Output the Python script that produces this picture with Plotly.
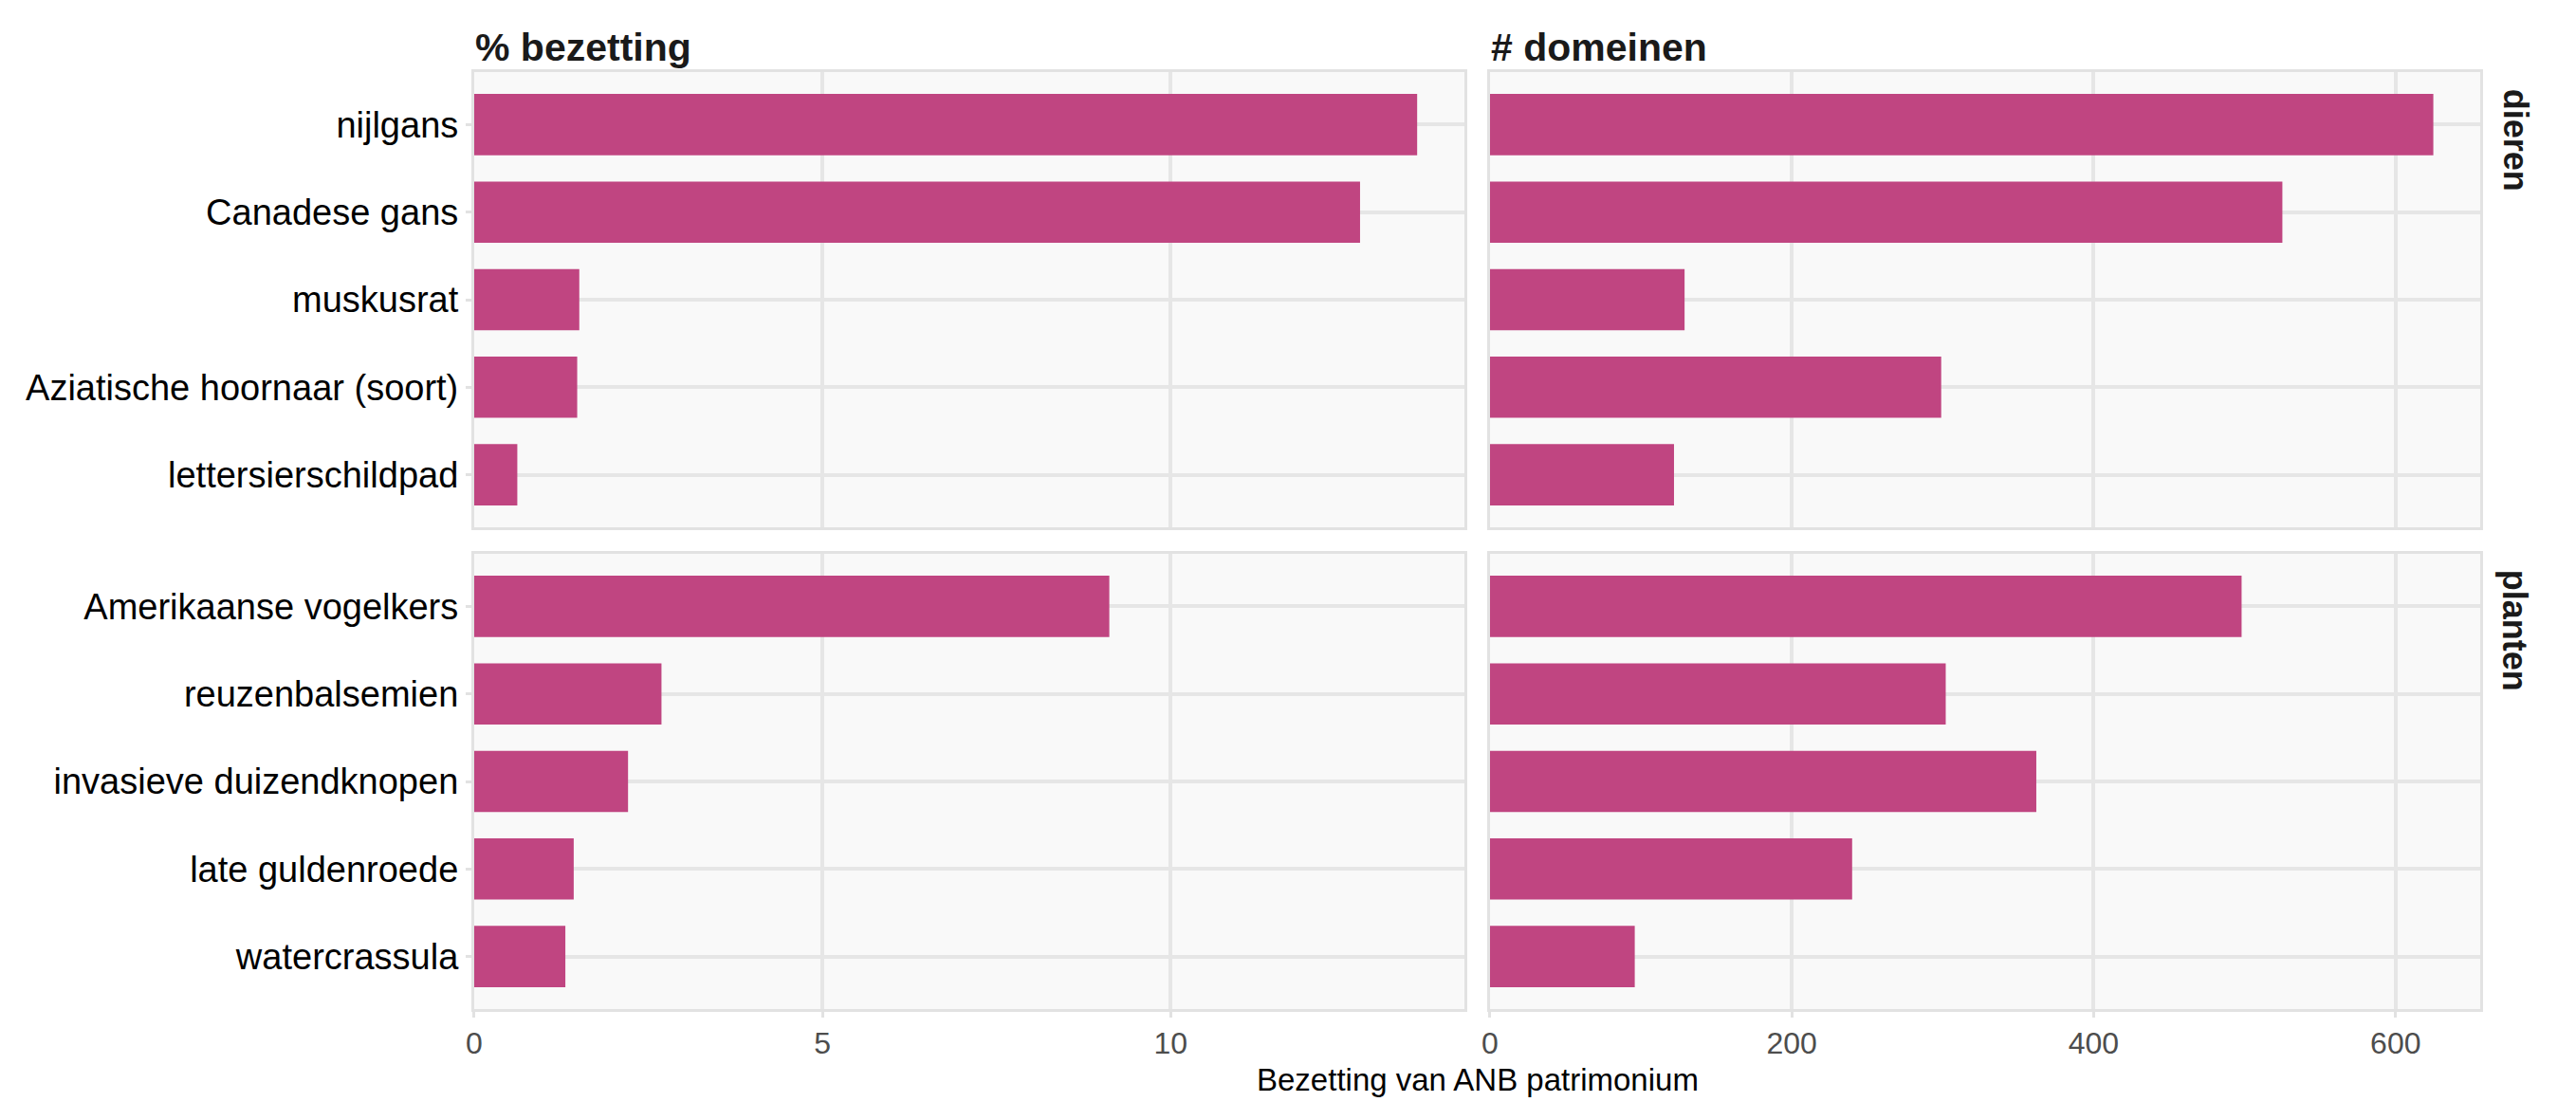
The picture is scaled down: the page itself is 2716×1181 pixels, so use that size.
import plotly.graph_objects as go

# data
dieren = ["nijlgans", "Canadese gans", "muskusrat",
          "Aziatische hoornaar (soort)", "lettersierschildpad"]
dieren_pct = [13.54, 12.72, 1.51, 1.48, 0.62]
dieren_dom = [625, 525, 129, 299, 122]

planten = ["Amerikaanse vogelkers", "reuzenbalsemien", "invasieve duizendknopen",
           "late guldenroede", "watercrassula"]
planten_pct = [9.12, 2.69, 2.21, 1.43, 1.31]
planten_dom = [498, 302, 362, 240, 96]

pct_ticks = [0, 5, 10]
dom_ticks = [0, 200, 400, 600]

# page is 2716x1181, the browser body adds an 8px margin
OFF = 8
W, H = 2716 - 2 * OFF, 1181 - 2 * OFF
FONT = "Liberation Sans, Arial, sans-serif"
BAR = "#C04581"
GRID = "#E6E6E6"
BORDER = "#E2E2E2"

# panel boxes in page pixels (left, right) / (top, bottom)
cols = [(492.5, 1540), (1567, 2615)]
rows = [(76, 556), (584, 1064)]


def px(x):
    return (x - OFF) / W


def py(y):
    return 1 - (y - OFF) / H


def xdom(c):
    return [px(cols[c][0]), px(cols[c][1])]


def ydom(r):
    return [py(rows[r][1]), py(rows[r][0])]


fig = go.Figure()

panels = [
    (dieren, dieren_pct, "x", "y"),
    (dieren, dieren_dom, "x2", "y2"),
    (planten, planten_pct, "x3", "y3"),
    (planten, planten_dom, "x4", "y4"),
]
for cats, vals, xa, ya in panels:
    fig.add_trace(go.Bar(x=vals, y=cats, orientation="h", width=0.7,
                         marker=dict(color=BAR, line=dict(width=0)),
                         xaxis=xa, yaxis=ya, hoverinfo="x+y"))

pct_max = max(dieren_pct + planten_pct) * 1.05
dom_max = max(dieren_dom + planten_dom) * 1.05

common_x = dict(showgrid=True, gridcolor=GRID, gridwidth=4, zeroline=False,
                showline=True, mirror=True, linecolor=BORDER, linewidth=3,
                tickfont=dict(family=FONT, size=32, color="#4D4D4D"),
                ticklen=6, tickwidth=3, tickcolor=BORDER)
common_y = dict(type="category", range=[4.6, -0.6], showgrid=True, gridcolor=GRID,
                gridwidth=4, zeroline=False, showline=True, mirror=True,
                linecolor=BORDER, linewidth=3,
                tickfont=dict(family=FONT, size=38, color="#000000"),
                ticklen=6, tickwidth=3, tickcolor=BORDER)

layout_axes = {}
for i, (c, r, tv, mx) in enumerate([(0, 0, pct_ticks, pct_max), (1, 0, dom_ticks, dom_max),
                                     (0, 1, pct_ticks, pct_max), (1, 1, dom_ticks, dom_max)]):
    n = "" if i == 0 else str(i + 1)
    bottom = r == 1
    layout_axes["xaxis" + n] = dict(common_x, domain=xdom(c), anchor="y" + n,
                                    range=[0, mx], tickvals=tv,
                                    showticklabels=bottom,
                                    ticks="outside" if bottom else "")
    left = c == 0
    layout_axes["yaxis" + n] = dict(common_y, domain=ydom(r), anchor="x" + n,
                                    categoryarray=dieren if r == 0 else planten,
                                    categoryorder="array",
                                    showticklabels=left,
                                    ticks="outside" if left else "")

fig.update_layout(**layout_axes)

annotations = [
    dict(text="<b>% bezetting</b>", x=px(cols[0][0]), y=py(50),
         xanchor="left", yanchor="middle", font=dict(size=41, color="#1A1A1A")),
    dict(text="<b># domeinen</b>", x=px(cols[1][0]), y=py(50),
         xanchor="left", yanchor="middle", font=dict(size=41, color="#1A1A1A")),
    dict(text="<b>dieren</b>", x=px(2652), y=py(148), textangle=90,
         xanchor="center", yanchor="middle", font=dict(size=36, color="#1A1A1A")),
    dict(text="<b>planten</b>", x=px(2652), y=py(665), textangle=90,
         xanchor="center", yanchor="middle", font=dict(size=36, color="#1A1A1A")),
    dict(text="Bezetting van ANB patrimonium", x=px(1554), y=py(1138),
         xanchor="center", yanchor="middle", font=dict(size=33, color="#000000")),
]
for a in annotations:
    a.update(xref="paper", yref="paper", showarrow=False, borderpad=0)
    a["font"]["family"] = FONT

fig.update_layout(
    annotations=annotations,
    width=W, height=H,
    margin=dict(l=0, r=0, t=0, b=0),
    paper_bgcolor="white",
    plot_bgcolor="#F9F9F9",
    showlegend=False,
    font=dict(family=FONT),
)

fig.write_html("out.html")
